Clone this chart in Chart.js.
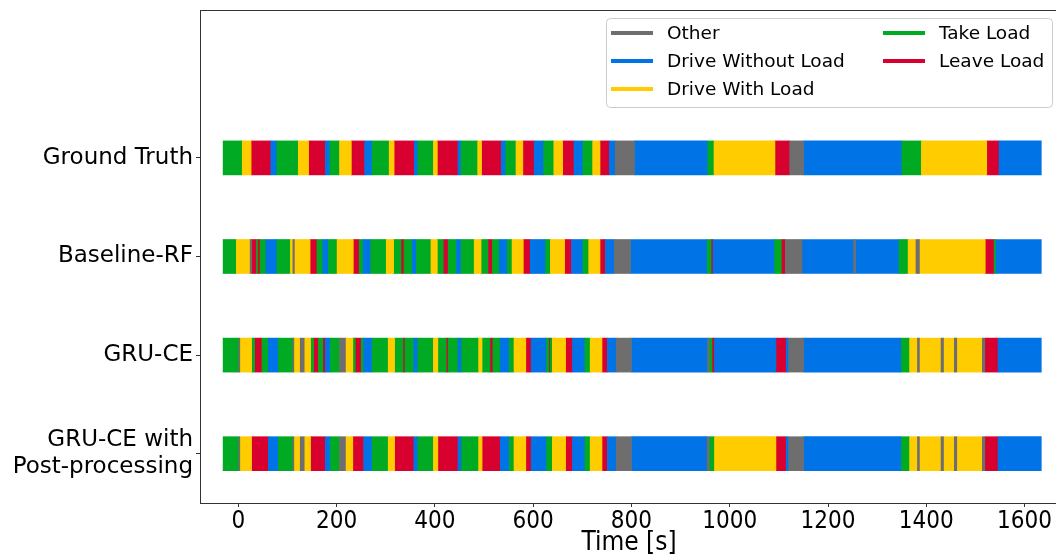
<!DOCTYPE html>
<html>
<head>
<meta charset="utf-8">
<script src="https://cdn.jsdelivr.net/npm/chart.js@4.4.0/dist/chart.umd.min.js"></script>
<style>
  html, body { margin: 0; padding: 0; background: #fff; overflow: hidden; }
  #wrap { width: 1056px; height: 556px; overflow: hidden; }
</style>
</head>
<body>
<div id="wrap"><canvas id="chart" width="1060" height="556"></canvas></div>
<script>
// activity classes
const stateCodes = ['O', 'D', 'W', 'T', 'L'];
const stateNames = ['Other', 'Drive Without Load', 'Drive With Load', 'Take Load', 'Leave Load'];
const stateColors = ['#6e6e6e', '#0073e6', '#ffcc00', '#00aa22', '#d7002f'];

// rows, top to bottom
const rowNames = ['Ground Truth', 'Baseline-RF', 'GRU-CE', ['GRU-CE with', 'Post-processing']];

const xTicks = [0, 200, 400, 600, 800, 1000, 1200, 1400, 1600];

// each row: sequence of states and the segment boundaries in seconds (one more than states)
const gtStates = 'T W L D T W L D T W L D T W L D T W L D T W L D T W L D T W L D T W L D O D T W L O D T W L D'.split(' ');
const gtTimes = [-31, 8, 26, 66, 77, 122, 143, 177, 185, 206, 230, 257, 271, 307, 317, 358, 364, 397, 405, 447,
  452, 487, 495, 535, 543, 565, 579, 602, 620, 642, 660, 683, 700, 721, 736, 755, 767, 806, 954, 968,
  1092, 1122, 1150, 1349, 1390, 1523, 1548, 1634];

const rfStates = 'T W O L T L T D T W O W L T D T W L T D T W T L T D T W T L T D T W T L T D T W L D T W L D T W L D O D T L D T L O D O D T W O W L T D'.split(' ');
const rfTimes = [-31, -4, 24, 27, 37, 39, 44, 56, 77, 106, 111, 114, 146, 160, 172, 182, 201, 234, 246, 254,
  268, 301, 316, 331, 337, 354, 361, 392, 405, 417, 427, 444, 452, 480, 494, 508, 517, 531, 546, 557,
  580, 594, 624, 635, 664, 678, 700, 713, 736, 747, 765, 798, 953, 962, 966, 1090, 1105, 1113, 1147, 1252,
  1256, 1343, 1363, 1379, 1386, 1520, 1538, 1542, 1634];

const gruStates = 'T O W T L T D T O W O W T L T L D T O W T L T D T W T L T D T W T L T D T W T L T D T W L D T L T W L D T W L D O D O T L D L D O D T W O W O W O W O L D'.split(' ');
const gruTimes = [-31, 1, 3, 27, 33, 48, 61, 80, 111, 113, 126, 134, 147, 153, 163, 172, 177, 186, 206, 218,
  233, 238, 250, 255, 271, 305, 318, 335, 339, 357, 364, 397, 406, 423, 427, 447, 453, 489, 496, 512,
  518, 533, 550, 561, 585, 596, 626, 632, 635, 639, 666, 680, 704, 716, 740, 751, 769, 800, 955, 958,
  964, 969, 1094, 1115, 1120, 1150, 1348, 1366, 1382, 1386, 1430, 1435, 1457, 1462, 1514, 1519, 1546, 1634];

const postStates = 'T O W L D T O W O W L D T O W L D T W L D T W L D T W L D T W L D T W L D T W L D O D O T W L D O D T W O W O W O W O L D'.split(' ');
const postTimes = [-31, 1, 3, 27, 61, 80, 111, 113, 126, 134, 147, 177, 186, 206, 218, 233, 255, 271, 305, 318,
  357, 364, 397, 406, 447, 453, 489, 496, 533, 550, 561, 585, 596, 626, 639, 666, 680, 704, 716, 740,
  751, 769, 800, 954, 958, 969, 1094, 1115, 1120, 1150, 1348, 1366, 1382, 1386, 1430, 1435, 1457, 1462, 1514, 1519,
  1546, 1634];

const rowStates = [gtStates, rfStates, gruStates, postStates];
const rowTimes = [gtTimes, rfTimes, gruTimes, postTimes];

function buildDatasets() {
  return stateCodes.map((code, s) => {
    const data = [];
    rowStates.forEach((states, r) => {
      const times = rowTimes[r];
      const yVal = rowNames.length - 1 - r;
      states.forEach((st, i) => {
        if (st === code) data.push({ x: [times[i], times[i + 1]], y: yVal });
      });
    });
    return {
      label: stateNames[s],
      data: data,
      backgroundColor: stateColors[s],
      borderWidth: 0,
      borderSkipped: false,
      barThickness: 34,
      grouped: false
    };
  });
}

const framePlugin = {
  id: 'frame',
  afterDraw(chart) {
    const a = chart.chartArea;
    const ctx = chart.ctx;
    ctx.save();
    ctx.strokeStyle = '#333';
    ctx.lineWidth = 1;
    ctx.strokeRect(Math.round(a.left) + 0.5, Math.round(a.top) + 0.5, a.right - a.left, a.bottom - a.top);
    ctx.restore();
  }
};

const legendPlugin = {
  id: 'boxLegend',
  afterDraw(chart) {
    const ctx = chart.ctx;
    ctx.save();
    ctx.fillStyle = 'rgba(255,255,255,0.8)';
    ctx.strokeStyle = '#cccccc';
    ctx.lineWidth = 1;
    ctx.beginPath();
    ctx.roundRect(606.5, 18.5, 446, 89, 4);
    ctx.fill();
    ctx.stroke();
    ctx.font = '18.5px "DejaVu Sans"';
    ctx.textBaseline = 'middle';
    ctx.textAlign = 'left';
    stateNames.forEach((name, i) => {
      const col = i < 3 ? 0 : 1;
      const row = i < 3 ? i : i - 3;
      const x = col === 0 ? 611 : 883;
      const y = 33 + row * 28;
      ctx.strokeStyle = stateColors[i];
      ctx.lineWidth = 4;
      ctx.beginPath();
      ctx.moveTo(x, y);
      ctx.lineTo(x + 42, y);
      ctx.stroke();
      ctx.fillStyle = '#000';
      ctx.fillText(name, x + 56, y + 1);
    });
    ctx.restore();
  }
};

const narrowFont = "'Liberation Sans Narrow', 'DejaVu Sans Condensed', sans-serif";

new Chart(document.getElementById('chart').getContext('2d'), {
  type: 'bar',
  data: { datasets: buildDatasets() },
  options: {
    indexAxis: 'y',
    responsive: false,
    animation: false,
    devicePixelRatio: 1,
    layout: { padding: { left: 0, right: 2, top: 10, bottom: 0 } },
    plugins: { legend: { display: false }, tooltip: { enabled: false } },
    scales: {
      x: {
        type: 'linear',
        min: -78,
        max: 1668,
        afterBuildTicks: (scale) => { scale.ticks = xTicks.map(v => ({ value: v })); },
        afterFit: (scale) => { scale.height = 53; scale.paddingLeft = 0; scale.paddingRight = 0; },
        border: { display: false },
        grid: { drawOnChartArea: false, drawTicks: true, tickLength: 4, color: '#333' },
        ticks: {
          color: '#000',
          padding: 0,
          maxRotation: 0,
          callback: (v) => String(v),
          font: { family: narrowFont, size: 24 }
        },
        title: {
          display: true,
          text: 'Time [s]',
          color: '#000',
          padding: { top: 0, bottom: -3 },
          font: { family: narrowFont, size: 26 }
        }
      },
      y: {
        type: 'linear',
        min: -0.5,
        max: 4.5,
        offset: false,
        afterBuildTicks: (scale) => { scale.ticks = rowNames.map((n, i) => ({ value: i })); },
        afterFit: (scale) => { scale.width = 200; scale.paddingTop = 0; scale.paddingBottom = 0; },
        border: { display: false },
        grid: { drawOnChartArea: false, drawTicks: true, tickLength: 4, color: '#333', offset: false },
        ticks: {
          color: '#000',
          padding: 3,
          font: { family: "'DejaVu Sans'", size: 23, lineHeight: 1.15 },
          callback: (v) => rowNames[rowNames.length - 1 - v]
        }
      }
    }
  },
  plugins: [framePlugin, legendPlugin]
});
</script>
</body>
</html>
